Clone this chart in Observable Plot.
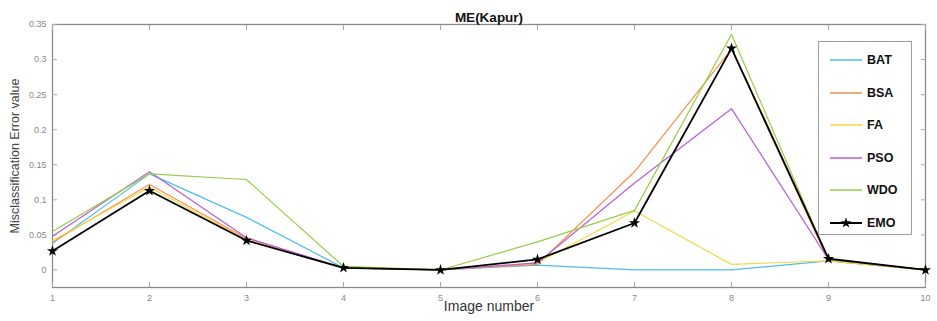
<!DOCTYPE html>
<html>
<head>
<meta charset="utf-8">
<script src="https://cdn.jsdelivr.net/npm/d3@7"></script>
<script src="https://cdn.jsdelivr.net/npm/@observablehq/plot@0.6"></script>
<style>
  html, body { margin: 0; padding: 0; background: #fff; }
  #wrap { position: relative; width: 937px; height: 321px; font-family: "Liberation Sans", Arial, sans-serif; }
  #legend { position: absolute; left: 818px; top: 41px; width: 94px; height: 194px; border: 1px solid #a0a0a0; background: #fff; box-sizing: border-box; }
  .item { position: absolute; left: 10px; height: 14px; display: flex; align-items: center; }
  .item svg { display: block; }
  .item span { font-weight: bold; font-size: 12.5px; color: #111; margin-left: 2px; }
</style>
</head>
<body>
<div id="wrap"></div>
<script>
const images = [1, 2, 3, 4, 5, 6, 7, 8, 9, 10];
const algorithms = ["BAT", "BSA", "FA", "PSO", "WDO", "EMO"];
const colors = ["#4DBEEE", "#F5904E", "#F7D648", "#B45ED8", "#9ACD46", "#000000"];
const BAT = [0.038, 0.137, 0.075, 0.003, 0.000, 0.007, 0.000, 0.000, 0.013, 0.000];
const BSA = [0.040, 0.122, 0.045, 0.003, 0.000, 0.008, 0.140, 0.315, 0.013, 0.000];
const FA  = [0.042, 0.118, 0.043, 0.003, 0.000, 0.010, 0.084, 0.008, 0.013, 0.000];
const PSO = [0.048, 0.140, 0.046, 0.003, 0.000, 0.010, 0.124, 0.230, 0.015, 0.000];
const WDO = [0.055, 0.137, 0.129, 0.005, 0.000, 0.040, 0.085, 0.336, 0.015, 0.000];
const EMO = [0.027, 0.113, 0.042, 0.003, 0.000, 0.015, 0.067, 0.316, 0.016, 0.000];
const yTicks = [0, 0.05, 0.1, 0.15, 0.2, 0.25, 0.3, 0.35];
const xTicks = images;
const title = "ME(Kapur)";
const xLabel = "Image number";
const yLabel = "Misclassification Error value";

const seriesValues = {BAT, BSA, FA, PSO, WDO, EMO};
const rows = algorithms.flatMap(a => images.map((img, i) => ({alg: a, img, v: seriesValues[a][i]})));
const emoRows = rows.filter(d => d.alg === "EMO");

const fmt = d => String(+d.toFixed(2));
const grayAxis = "#8a8a8a";

const chart = Plot.plot({
  width: 937,
  height: 321,
  marginLeft: 52,
  marginRight: 12,
  marginTop: 24,
  marginBottom: 34,
  style: {fontFamily: "'Liberation Sans', Arial, sans-serif", background: "#fff"},
  x: {domain: [1, 10]},
  y: {domain: [-0.025, 0.35]},
  color: {domain: algorithms, range: colors},
  marks: [
    Plot.frame({stroke: grayAxis, strokeWidth: 1.3}),
    Plot.axisX(xTicks, {anchor: "bottom", tickSize: -5, tickPadding: 12, tickFormat: d => String(d), stroke: "#aaa", fill: "#888", fontSize: 9, label: null}),
    Plot.axisX(xTicks, {anchor: "top", tickSize: -5, tickFormat: () => "", stroke: "#aaa", label: null}),
    Plot.axisY(yTicks, {anchor: "left", tickSize: -5, tickPadding: 11, tickFormat: fmt, stroke: "#aaa", fill: "#888", fontSize: 9, label: null}),
    Plot.axisY(yTicks, {anchor: "right", tickSize: -5, tickFormat: () => "", stroke: "#aaa", label: null}),
    Plot.line(rows.filter(d => d.alg !== "EMO"), {x: "img", y: "v", z: "alg", stroke: "alg", strokeWidth: 1.2}),
    Plot.line(emoRows, {x: "img", y: "v", stroke: "#000", strokeWidth: 1.8}),
    Plot.dot(emoRows, {x: "img", y: "v", symbol: "star", fill: "#000", r: 3.5}),
    Plot.text([title], {frameAnchor: "top", dy: -12, fontWeight: "bold", fontSize: 13.5, fill: "#111"}),
    Plot.text([xLabel], {frameAnchor: "bottom", dy: 23, fontSize: 14, fill: "#333"}),
    Plot.text([yLabel], {frameAnchor: "left", textAnchor: "middle", dx: -38, rotate: -90, fontSize: 12.5, fill: "#444"})
  ]
});

const wrap = document.getElementById("wrap");
wrap.appendChild(chart);

const legend = document.createElement("div");
legend.id = "legend";
algorithms.forEach((a, i) => {
  const item = document.createElement("div");
  item.className = "item";
  item.style.top = (11 + i * 32.5) + "px";
  const ns = "http://www.w3.org/2000/svg";
  const s = document.createElementNS(ns, "svg");
  s.setAttribute("width", 36); s.setAttribute("height", 14);
  const l = document.createElementNS(ns, "line");
  l.setAttribute("x1", 1); l.setAttribute("x2", 33); l.setAttribute("y1", 7); l.setAttribute("y2", 7);
  l.setAttribute("stroke", colors[i]); l.setAttribute("stroke-width", a === "EMO" ? 2 : 1.5);
  s.appendChild(l);
  if (a === "EMO") {
    const p = document.createElementNS(ns, "path");
    p.setAttribute("d", d3.symbol(d3.symbolStar, 36)());
    p.setAttribute("transform", "translate(17,7)");
    p.setAttribute("fill", "#000");
    s.appendChild(p);
  }
  const t = document.createElement("span");
  t.textContent = a;
  item.appendChild(s); item.appendChild(t);
  legend.appendChild(item);
});
wrap.appendChild(legend);
</script>
</body>
</html>
